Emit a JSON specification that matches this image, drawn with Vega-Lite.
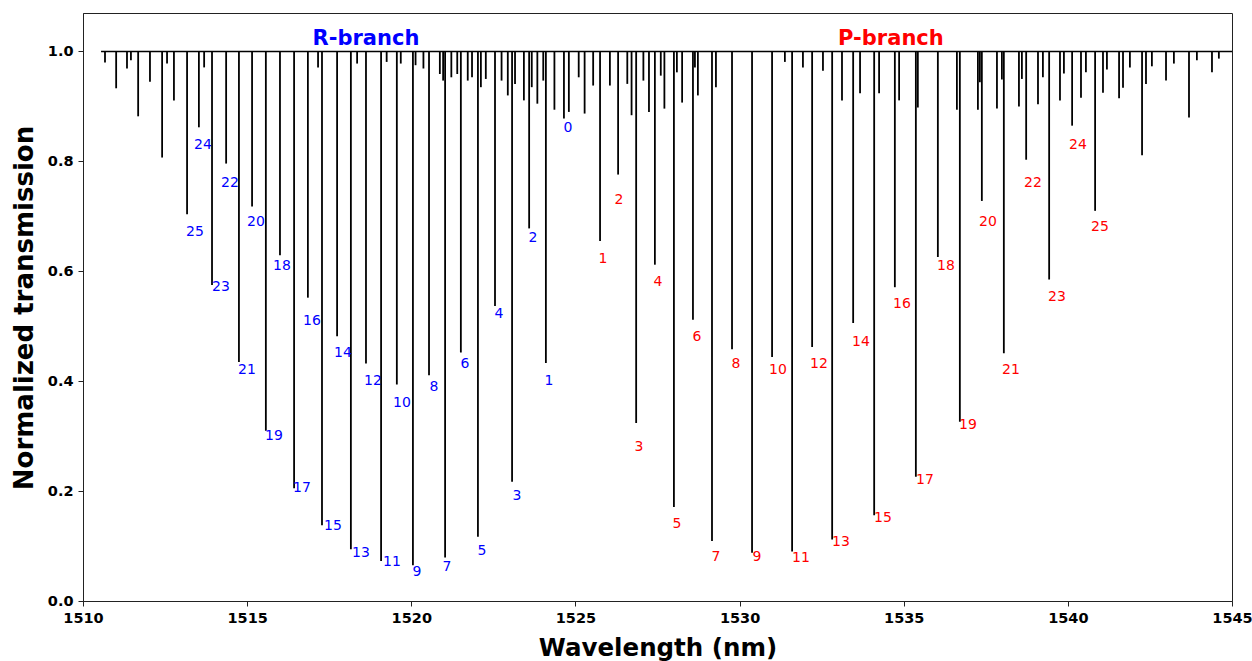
{
  "$schema": "https://vega.github.io/schema/vega-lite/v6.json",
  "autosize": {"type": "none"},
  "padding": {"left": 83, "top": 13, "right": 20, "bottom": 60},
  "width": 1149,
  "height": 588,
  "config": {
    "font": "DejaVu Sans",
    "view": {"stroke": "#222222", "strokeWidth": 1}
  },
  "datasets": {
    "base": [{"w0": 1510.55, "w1": 1545.0, "t": 1.0}],
    "lines": [
      {"w": 1510.67, "t": 0.980}, {"w": 1511.01, "t": 0.933}, {"w": 1511.34, "t": 0.969}, {"w": 1511.46, "t": 0.984},
      {"w": 1511.68, "t": 0.882}, {"w": 1512.04, "t": 0.945}, {"w": 1512.41, "t": 0.807}, {"w": 1512.56, "t": 0.978},
      {"w": 1512.77, "t": 0.911}, {"w": 1513.17, "t": 0.704}, {"w": 1513.53, "t": 0.862}, {"w": 1513.69, "t": 0.971},
      {"w": 1513.93, "t": 0.575}, {"w": 1514.36, "t": 0.796}, {"w": 1514.75, "t": 0.435}, {"w": 1515.15, "t": 0.718},
      {"w": 1515.57, "t": 0.310}, {"w": 1516.00, "t": 0.629}, {"w": 1516.43, "t": 0.205}, {"w": 1516.85, "t": 0.552},
      {"w": 1517.16, "t": 0.971}, {"w": 1517.28, "t": 0.138}, {"w": 1517.74, "t": 0.482}, {"w": 1518.16, "t": 0.094},
      {"w": 1518.35, "t": 0.978}, {"w": 1518.62, "t": 0.432}, {"w": 1519.08, "t": 0.073}, {"w": 1519.25, "t": 0.981},
      {"w": 1519.56, "t": 0.394}, {"w": 1519.68, "t": 0.978}, {"w": 1520.05, "t": 0.065}, {"w": 1520.13, "t": 0.975},
      {"w": 1520.37, "t": 0.969}, {"w": 1520.54, "t": 0.411}, {"w": 1520.87, "t": 0.959}, {"w": 1520.97, "t": 0.947},
      {"w": 1521.03, "t": 0.079}, {"w": 1521.22, "t": 0.953}, {"w": 1521.40, "t": 0.959}, {"w": 1521.51, "t": 0.452},
      {"w": 1521.72, "t": 0.947}, {"w": 1521.85, "t": 0.953}, {"w": 1522.03, "t": 0.117}, {"w": 1522.12, "t": 0.935},
      {"w": 1522.27, "t": 0.950}, {"w": 1522.55, "t": 0.537}, {"w": 1522.75, "t": 0.947}, {"w": 1522.94, "t": 0.920},
      {"w": 1523.07, "t": 0.217}, {"w": 1523.16, "t": 0.941}, {"w": 1523.43, "t": 0.911}, {"w": 1523.59, "t": 0.678},
      {"w": 1523.67, "t": 0.935}, {"w": 1523.84, "t": 0.905}, {"w": 1524.02, "t": 0.947}, {"w": 1524.10, "t": 0.433},
      {"w": 1524.36, "t": 0.894}, {"w": 1524.65, "t": 0.878}, {"w": 1524.80, "t": 0.890}, {"w": 1525.10, "t": 0.953},
      {"w": 1525.28, "t": 0.887}, {"w": 1525.54, "t": 0.938}, {"w": 1525.75, "t": 0.655}, {"w": 1526.05, "t": 0.938},
      {"w": 1526.30, "t": 0.776}, {"w": 1526.58, "t": 0.941}, {"w": 1526.71, "t": 0.884}, {"w": 1526.85, "t": 0.324},
      {"w": 1527.07, "t": 0.947}, {"w": 1527.24, "t": 0.890}, {"w": 1527.42, "t": 0.612}, {"w": 1527.60, "t": 0.956},
      {"w": 1527.71, "t": 0.896}, {"w": 1528.00, "t": 0.171}, {"w": 1528.09, "t": 0.962}, {"w": 1528.25, "t": 0.907},
      {"w": 1528.58, "t": 0.512}, {"w": 1528.64, "t": 0.971}, {"w": 1528.73, "t": 0.920}, {"w": 1529.16, "t": 0.109},
      {"w": 1529.28, "t": 0.935}, {"w": 1529.77, "t": 0.458}, {"w": 1530.38, "t": 0.088}, {"w": 1530.99, "t": 0.444},
      {"w": 1531.38, "t": 0.981}, {"w": 1531.60, "t": 0.090}, {"w": 1531.93, "t": 0.971}, {"w": 1532.21, "t": 0.462},
      {"w": 1532.54, "t": 0.965}, {"w": 1532.82, "t": 0.112}, {"w": 1533.12, "t": 0.911}, {"w": 1533.46, "t": 0.506},
      {"w": 1533.67, "t": 0.924}, {"w": 1534.10, "t": 0.156}, {"w": 1534.25, "t": 0.924}, {"w": 1534.73, "t": 0.571},
      {"w": 1534.86, "t": 0.911}, {"w": 1535.37, "t": 0.226}, {"w": 1535.43, "t": 0.898}, {"w": 1536.04, "t": 0.626},
      {"w": 1536.62, "t": 0.894}, {"w": 1536.71, "t": 0.326}, {"w": 1537.26, "t": 0.894}, {"w": 1537.32, "t": 0.944},
      {"w": 1537.38, "t": 0.728}, {"w": 1537.84, "t": 0.896}, {"w": 1537.99, "t": 0.949}, {"w": 1538.05, "t": 0.451},
      {"w": 1538.51, "t": 0.900}, {"w": 1538.60, "t": 0.950}, {"w": 1538.73, "t": 0.803}, {"w": 1539.09, "t": 0.904},
      {"w": 1539.24, "t": 0.953}, {"w": 1539.43, "t": 0.585}, {"w": 1539.76, "t": 0.911}, {"w": 1539.88, "t": 0.960},
      {"w": 1540.13, "t": 0.865}, {"w": 1540.40, "t": 0.916}, {"w": 1540.55, "t": 0.962}, {"w": 1540.83, "t": 0.710},
      {"w": 1541.07, "t": 0.925}, {"w": 1541.19, "t": 0.967}, {"w": 1541.56, "t": 0.915}, {"w": 1541.68, "t": 0.934},
      {"w": 1541.89, "t": 0.971}, {"w": 1542.26, "t": 0.811}, {"w": 1542.38, "t": 0.941}, {"w": 1542.56, "t": 0.973},
      {"w": 1542.99, "t": 0.947}, {"w": 1543.23, "t": 0.978}, {"w": 1543.69, "t": 0.880}, {"w": 1543.93, "t": 0.984},
      {"w": 1544.39, "t": 0.962}, {"w": 1544.60, "t": 0.987}
    ],
    "labels": [
      {"x": 1513.655, "y": 0.829, "n": "24", "b": "R"}, {"x": 1514.478, "y": 0.760, "n": "22", "b": "R"},
      {"x": 1513.412, "y": 0.671, "n": "25", "b": "R"}, {"x": 1515.270, "y": 0.689, "n": "20", "b": "R"},
      {"x": 1516.062, "y": 0.609, "n": "18", "b": "R"}, {"x": 1514.204, "y": 0.571, "n": "23", "b": "R"},
      {"x": 1516.976, "y": 0.509, "n": "16", "b": "R"}, {"x": 1514.996, "y": 0.420, "n": "21", "b": "R"},
      {"x": 1517.920, "y": 0.451, "n": "14", "b": "R"}, {"x": 1518.834, "y": 0.400, "n": "12", "b": "R"},
      {"x": 1519.717, "y": 0.360, "n": "10", "b": "R"}, {"x": 1520.692, "y": 0.389, "n": "8", "b": "R"},
      {"x": 1521.636, "y": 0.431, "n": "6", "b": "R"}, {"x": 1515.818, "y": 0.300, "n": "19", "b": "R"},
      {"x": 1516.671, "y": 0.205, "n": "17", "b": "R"}, {"x": 1517.615, "y": 0.136, "n": "15", "b": "R"},
      {"x": 1518.468, "y": 0.087, "n": "13", "b": "R"}, {"x": 1519.413, "y": 0.071, "n": "11", "b": "R"},
      {"x": 1520.174, "y": 0.053, "n": "9", "b": "R"}, {"x": 1521.088, "y": 0.062, "n": "7", "b": "R"},
      {"x": 1522.154, "y": 0.091, "n": "5", "b": "R"}, {"x": 1522.672, "y": 0.522, "n": "4", "b": "R"},
      {"x": 1523.220, "y": 0.191, "n": "3", "b": "R"}, {"x": 1523.707, "y": 0.660, "n": "2", "b": "R"},
      {"x": 1524.195, "y": 0.400, "n": "1", "b": "R"}, {"x": 1524.774, "y": 0.860, "n": "0", "b": "R"},
      {"x": 1525.840, "y": 0.622, "n": "1", "b": "P"}, {"x": 1526.327, "y": 0.729, "n": "2", "b": "P"},
      {"x": 1526.936, "y": 0.280, "n": "3", "b": "P"}, {"x": 1527.515, "y": 0.580, "n": "4", "b": "P"},
      {"x": 1528.094, "y": 0.140, "n": "5", "b": "P"}, {"x": 1528.703, "y": 0.480, "n": "6", "b": "P"},
      {"x": 1529.282, "y": 0.080, "n": "7", "b": "P"}, {"x": 1529.891, "y": 0.431, "n": "8", "b": "P"},
      {"x": 1530.531, "y": 0.080, "n": "9", "b": "P"}, {"x": 1531.171, "y": 0.420, "n": "10", "b": "P"},
      {"x": 1531.871, "y": 0.078, "n": "11", "b": "P"}, {"x": 1532.419, "y": 0.431, "n": "12", "b": "P"},
      {"x": 1533.089, "y": 0.107, "n": "13", "b": "P"}, {"x": 1533.699, "y": 0.471, "n": "14", "b": "P"},
      {"x": 1534.369, "y": 0.151, "n": "15", "b": "P"}, {"x": 1534.948, "y": 0.540, "n": "16", "b": "P"},
      {"x": 1535.648, "y": 0.220, "n": "17", "b": "P"}, {"x": 1536.288, "y": 0.609, "n": "18", "b": "P"},
      {"x": 1536.958, "y": 0.320, "n": "19", "b": "P"}, {"x": 1537.567, "y": 0.689, "n": "20", "b": "P"},
      {"x": 1538.268, "y": 0.420, "n": "21", "b": "P"}, {"x": 1538.938, "y": 0.760, "n": "22", "b": "P"},
      {"x": 1539.669, "y": 0.553, "n": "23", "b": "P"}, {"x": 1540.309, "y": 0.829, "n": "24", "b": "P"},
      {"x": 1540.979, "y": 0.680, "n": "25", "b": "P"}
    ],
    "titles": [
      {"x": 1518.62, "y": 1.012, "n": "R-branch", "b": "R"},
      {"x": 1534.61, "y": 1.012, "n": "P-branch", "b": "P"}
    ]
  },
  "layer": [
    {
      "data": {"name": "base"},
      "mark": {"type": "rule", "color": "black", "strokeWidth": 1.5},
      "encoding": {
        "x": {
          "field": "w0", "type": "quantitative",
          "scale": {"domain": [1510, 1545], "nice": false, "zero": false},
          "axis": {
            "values": [1510, 1515, 1520, 1525, 1530, 1535, 1540, 1545],
            "format": "d",
            "grid": false,
            "domainColor": "#222222",
            "tickColor": "#222222",
            "tickSize": 5,
            "labelColor": "black",
            "labelFont": "DejaVu Sans",
            "labelFontWeight": "bold",
            "labelFontSize": 14.5,
            "labelPadding": 5,
            "labelFlush": false,
            "labelOverlap": false,
            "title": "Wavelength (nm)",
            "titleFont": "DejaVu Sans",
            "titleFontWeight": "bold",
            "titleFontSize": 24.5,
            "titleColor": "black",
            "titleX": 574.5,
            "titleY": 54,
            "titleAlign": "center",
            "titleBaseline": "alphabetic"
          }
        },
        "x2": {"field": "w1"},
        "y": {
          "field": "t", "type": "quantitative",
          "scale": {"domain": [0, 1.07], "nice": false, "zero": false},
          "axis": {
            "values": [0, 0.2, 0.4, 0.6, 0.8, 1.0],
            "format": ".1f",
            "grid": false,
            "domainColor": "#222222",
            "tickColor": "#222222",
            "tickSize": 5,
            "labelColor": "black",
            "labelFont": "DejaVu Sans",
            "labelFontWeight": "bold",
            "labelFontSize": 14.5,
            "labelPadding": 5,
            "labelFlush": false,
            "title": "Normalized transmission",
            "titleFont": "DejaVu Sans",
            "titleFontWeight": "bold",
            "titleFontSize": 26,
            "titleColor": "black",
            "titleAngle": 270,
            "titleX": -51,
            "titleY": 294.5,
            "titleAlign": "center",
            "titleBaseline": "alphabetic"
          }
        }
      }
    },
    {
      "data": {"name": "lines"},
      "mark": {"type": "rule", "color": "black", "strokeWidth": 1.8},
      "encoding": {
        "x": {"field": "w", "type": "quantitative"},
        "y": {"field": "t", "type": "quantitative"},
        "y2": {"datum": 1}
      }
    },
    {
      "data": {"name": "labels"},
      "mark": {"type": "text", "align": "center", "baseline": "middle", "fontSize": 14, "font": "DejaVu Sans"},
      "encoding": {
        "x": {"field": "x", "type": "quantitative"},
        "y": {"field": "y", "type": "quantitative"},
        "text": {"field": "n", "type": "nominal"},
        "color": {"field": "b", "type": "nominal", "scale": {"domain": ["R", "P"], "range": ["#0000ff", "#ff0000"]}, "legend": null}
      }
    },
    {
      "data": {"name": "titles"},
      "mark": {"type": "text", "align": "center", "baseline": "alphabetic", "fontSize": 21, "fontWeight": "bold", "font": "DejaVu Sans"},
      "encoding": {
        "x": {"field": "x", "type": "quantitative"},
        "y": {"field": "y", "type": "quantitative"},
        "text": {"field": "n", "type": "nominal"},
        "color": {"field": "b", "type": "nominal", "legend": null}
      }
    }
  ]
}
